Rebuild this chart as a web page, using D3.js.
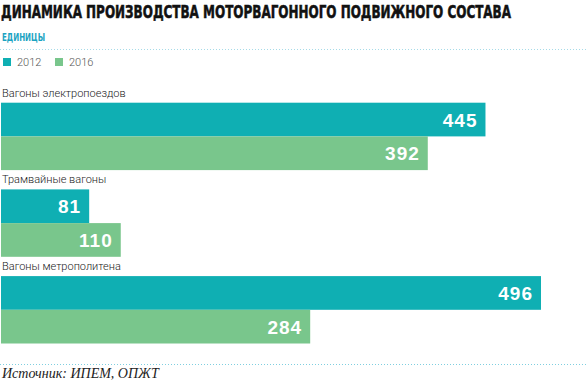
<!DOCTYPE html>
<html>
<head>
<meta charset="utf-8">
<script src="https://cdn.jsdelivr.net/npm/d3@7"></script>
<style>
  body { margin: 0; background: #fff; }
  svg { display: block; }
</style>
</head>
<body>
<svg width="588" height="386"></svg>
<script>
// data
const categories = ['Вагоны электропоездов', 'Трамвайные вагоны', 'Вагоны метрополитена'];
const years = ['2012', '2016'];
const values2012 = [445, 81, 496];
const values2016 = [392, 110, 284];

const colors = { '2012': '#0fafb3', '2016': '#79c68c' };
const svg = d3.select('svg');

const rows = categories.map((c, i) => ({
	cat: c,
	bars: [
		{ year: '2012', value: values2012[i] },
		{ year: '2016', value: values2016[i] }
	]
}));

// Scale
const x = d3.scaleLinear()
	.domain([0, 496])
	.range([1, 541]);

const yGroup = d3.scaleBand()
	.domain(categories)
	.range([102.7, 362.8]);

const yBar = d3.scaleBand()
	.domain(years)
	.range([0, 67.4]);

// Header
svg.append('text')
	.attr('x', 1)
	.attr('y', 17.5)
	.attr('font-family', 'DejaVu Sans')
	.attr('font-weight', 'bold')
	.attr('font-size', 18.5)
	.attr('textLength', 510)
	.attr('lengthAdjust', 'spacingAndGlyphs')
	.attr('fill', '#111')
	.attr('stroke', '#111')
	.attr('stroke-width', 0.6)
	.text('ДИНАМИКА ПРОИЗВОДСТВА МОТОРВАГОННОГО ПОДВИЖНОГО СОСТАВА');

svg.append('text')
	.attr('x', 2)
	.attr('y', 41)
	.attr('font-family', 'DejaVu Sans')
	.attr('font-weight', 'bold')
	.attr('font-size', 11)
	.attr('textLength', 43)
	.attr('lengthAdjust', 'spacingAndGlyphs')
	.attr('fill', '#1aa3c2')
	.text('ЕДИНИЦЫ');

svg.append('line')
	.attr('x1', 0).attr('x2', 588)
	.attr('y1', 49.5).attr('y2', 49.5)
	.attr('stroke', '#a6dbe8')
	.attr('stroke-dasharray', '1,2');

// Legend
const legend = svg.append('g')
	.selectAll('g')
	.data(years)
	.enter()
	.append('g')
	.attr('transform', (d, i) => `translate(${3 + i * 52}, 58)`);
legend.append('rect')
	.attr('width', 8)
	.attr('height', 8)
	.attr('fill', d => colors[d]);
legend.append('text')
	.attr('x', 14)
	.attr('y', 8)
	.attr('font-family', 'Roboto')
	.attr('font-weight', 300)
	.attr('font-size', 11)
	.attr('fill', '#555')
	.text(d => d);

// Bars
const group = svg.append('g')
	.selectAll('g')
	.data(rows)
	.enter()
	.append('g')
	.attr('transform', d => `translate(0, ${yGroup(d.cat)})`);

group.append('text')
	.attr('x', 2)
	.attr('y', -6)
	.attr('font-family', 'Roboto')
	.attr('font-weight', 300)
	.attr('font-size', 11)
	.attr('fill', '#222')
	.text(d => d.cat);

group.selectAll('rect')
	.data(d => d.bars)
	.enter()
	.append('rect')
	.attr('x', x(0))
	.attr('y', d => yBar(d.year))
	.attr('width', d => x(d.value) - x(0))
	.attr('height', yBar.bandwidth())
	.attr('fill', d => colors[d.year]);

group.selectAll('text.val')
	.data(d => d.bars)
	.enter()
	.append('text')
	.attr('class', 'val')
	.attr('x', d => x(d.value) - 8)
	.attr('y', d => yBar(d.year) + yBar.bandwidth() / 2 + 7)
	.attr('text-anchor', 'end')
	.attr('font-family', 'Liberation Sans')
	.attr('font-weight', 'bold')
	.attr('font-size', 19)
	.attr('letter-spacing', 1)
	.attr('fill', '#fff')
	.text(d => d.value);

// Footer
svg.append('line')
	.attr('x1', 0).attr('x2', 588)
	.attr('y1', 364.5).attr('y2', 364.5)
	.attr('stroke', '#7fcfe0')
	.attr('stroke-dasharray', '1,2');

svg.append('text')
	.attr('x', 2)
	.attr('y', 378)
	.attr('font-family', 'Liberation Serif')
	.attr('font-style', 'italic')
	.attr('font-weight', 'normal')
	.attr('font-size', 14)
	.attr('fill', '#222')
	.text('Источник: ИПЕМ, ОПЖТ');
</script>
</body>
</html>
